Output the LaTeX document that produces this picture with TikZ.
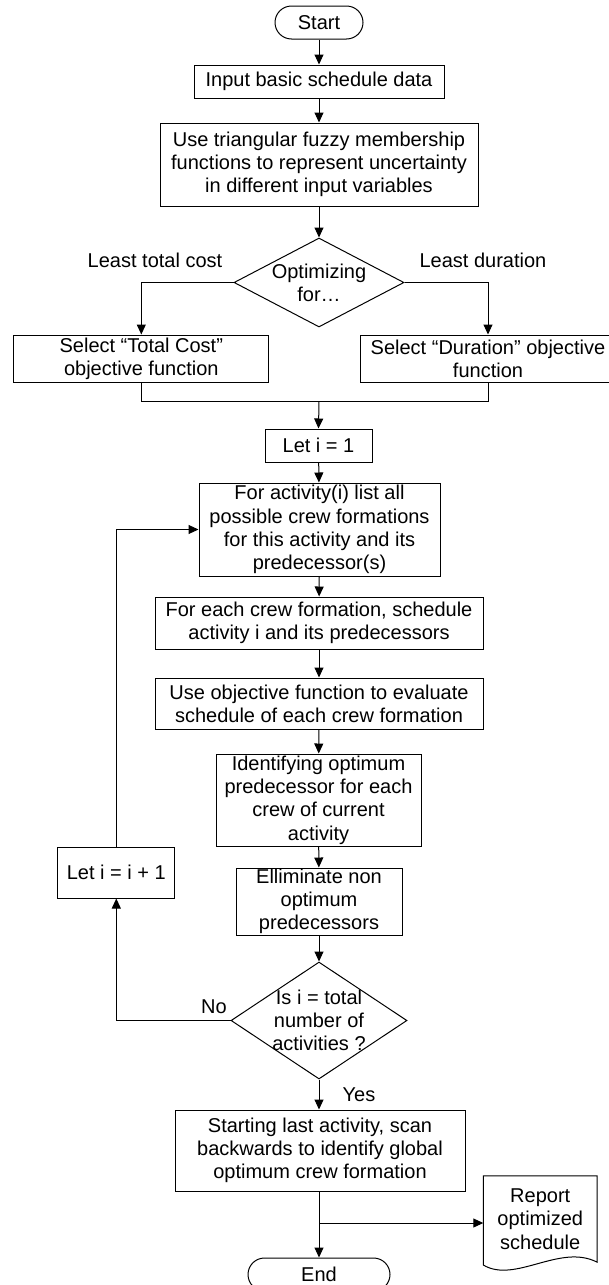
\documentclass[tikz,border=0pt]{standalone}
\usepackage{fontspec}
\setmainfont{Liberation Sans}
\usetikzlibrary{arrows.meta,shapes.geometric}

\tikzset{
  base/.style={font=\fontsize{20}{23.3}\selectfont, inner sep=0pt, align=center},
  procbox/.style={base, draw, line width=1pt, rectangle},
  termbox/.style={base, draw, line width=1pt, rectangle, rounded corners=16.5pt},
  decision/.style={draw, line width=1pt, diamond, inner sep=0pt},
  plain/.style={base},
  link/.style={line width=1pt},
  arr/.style={line width=1pt, -{Triangle[length=10pt,width=9pt]}},
}

\begin{document}
\begin{tikzpicture}[x=1pt,y=-1pt]
\useasboundingbox (0,0) rectangle (609,1285);

% main column
\node[termbox, minimum width=88pt, minimum height=33pt] (start) at (319,22.5) {Start};
\node[procbox, minimum width=250pt, minimum height=33pt] (input) at (319,81.5) {Input basic schedule data};
\node[procbox, minimum width=318pt, minimum height=83pt] (fuzzy) at (319,164.5)
  {Use triangular fuzzy membership\\functions to represent uncertainty\\in different input variables};

\node[decision, minimum width=170pt, minimum height=89pt] (opt) at (319,282.5) {};
\node[plain] (opttxt) at (opt.center) {Optimizing\\for…};

\node[procbox, minimum width=255pt, minimum height=47pt] (cost) at (141.3,358.5)
  {Select “Total Cost”\\objective function};
\node[procbox, minimum width=256pt, minimum height=47pt] (dur) at (488,358.5)
  {Select “Duration” objective\\function};

\node[plain] (lcost) at (155,260) {Least total cost};
\node[plain] (ldur) at (483,260) {Least duration};

\node[procbox, minimum width=107pt, minimum height=33pt] (leti) at (318.5,445.5) {Let i = 1};
\node[procbox, minimum width=241pt, minimum height=93pt] (list) at (319.5,529.5)
  {For activity(i) list all\\possible crew formations\\for this activity and its\\predecessor(s)};
\node[procbox, minimum width=328pt, minimum height=52pt] (each) at (319,623)
  {For each crew formation, schedule\\activity i and its predecessors};
\node[procbox, minimum width=328pt, minimum height=51pt] (eval) at (319,703.5)
  {Use objective function to evaluate\\schedule of each crew formation};
\node[procbox, minimum width=205pt, minimum height=92pt] (ident) at (318.5,800)
  {Identifying optimum\\predecessor for each\\crew of current\\activity};
\node[procbox, minimum width=166pt, minimum height=67pt] (elim) at (319,901.5)
  {Elliminate non\\optimum\\predecessors};

\node[decision, minimum width=176pt, minimum height=117pt] (check) at (319,1020.5) {};
\node[plain] (checktxt) at (check.center) {Is i = total\\number of\\activities ?};

\node[procbox, minimum width=117pt, minimum height=51pt] (inc) at (116.3,872.5) {Let i = i + 1};

\node[plain] (lno) at (214,1007) {No};
\node[plain] (lyes) at (359,1095) {Yes};

\node[procbox, minimum width=290pt, minimum height=81pt] (scan) at (320,1150.5)
  {Starting last activity, scan\\backwards to identify global\\optimum crew formation};

\node[termbox, minimum width=142pt, minimum height=33pt] (finish) at (319,1274.5) {End};

% document symbol for the report
\node[base, minimum width=113.5pt, minimum height=86pt] (report) at (540.25,1219)
  {Report\\optimized\\schedule};
\draw[link] (report.north west) -- (report.north east) -- (report.south east)
  .. controls (560,1243) and (515,1284) .. (report.south west |- 0,1265) -- cycle;

% connectors
\draw[arr] (start) -- (input);
\draw[arr] (input) -- (fuzzy);
\draw[arr] (fuzzy) -- (opt.north);
\draw[arr] (opt.west) -| (cost.north);
\draw[arr] (opt.east) -| (dur.north);

\coordinate (merge) at (319,401.7);
\draw[link] (cost.south) |- (merge) -| (dur.south);
\draw[arr] (merge) -- (leti.north);

\draw[arr] (leti) -- (list);
\draw[arr] (list) -- (each);
\draw[arr] (each) -- (eval);
\draw[arr] (eval) -- (ident);
\draw[arr] (ident) -- (elim);
\draw[arr] (elim) -- (check.north);

\draw[arr] (check.west) -| (inc.south);
\draw[arr] (inc.north) |- (list.west);

\draw[arr] (check.south) -- (scan.north -| check.south);

\coordinate (branch) at (319,1223);
\draw[arr] (scan.south -| finish.north) -- (finish.north);
\draw[arr] (branch) -- (branch -| report.west);
\end{tikzpicture}
\end{document}
